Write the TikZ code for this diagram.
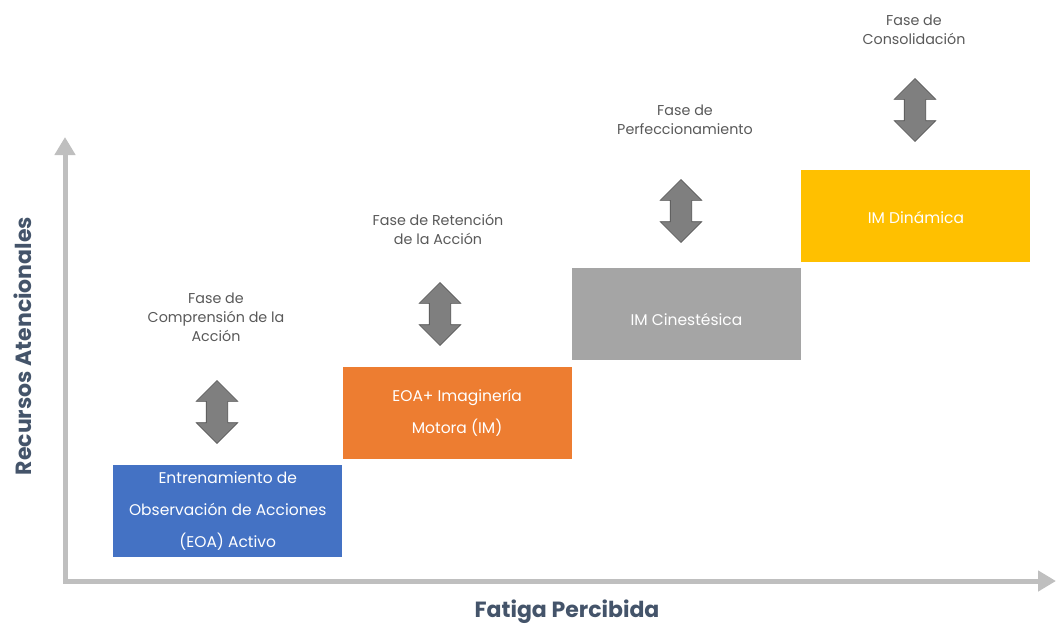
\documentclass[tikz,border=0pt]{standalone}
\usepackage{fontspec}
\setmainfont{Poppins}
\usetikzlibrary{arrows.meta,positioning,shapes.arrows}

\definecolor{ejegris}{HTML}{BFBFBF}
\definecolor{titulo}{HTML}{44546A}
\definecolor{fasegris}{HTML}{595959}
\definecolor{flechagris}{HTML}{7F7F7F}
\definecolor{flechaborde}{HTML}{505050}
\definecolor{eoaazul}{HTML}{4472C4}
\definecolor{imnaranja}{HTML}{ED7D31}
\definecolor{cingris}{HTML}{A5A5A5}
\definecolor{dinamarillo}{HTML}{FFC000}

\begin{document}
\begin{tikzpicture}[x=1pt,y=-1pt,
  etapa/.style={rectangle,minimum width=229pt,minimum height=92pt,inner sep=0pt,
    text=white,align=center,font=\fontsize{15.5}{32}\selectfont},
  fase/.style={align=center,text=fasegris,font=\fontsize{14.3}{19}\selectfont},
  flecha/.style={double arrow,rotate=90,fill=flechagris,draw=flechaborde,
    line width=0.6pt,inner xsep=0pt,inner ysep=10.5pt,minimum height=63pt,
    minimum width=41pt,double arrow head extend=10pt},
  eje/.style={line width=5pt,ejegris,line join=miter},
  titulo eje/.style={text=titulo,font=\fontsize{22}{24}\selectfont\bfseries}]
  \useasboundingbox (0,0) rectangle (1056,626);

  % ejes
  \coordinate (ytop) at (65,137);
  \coordinate (origen) at (65,581);
  \coordinate (xend) at (1056,581);
  \draw[eje,{Triangle[width=20pt,length=18pt]}-{Triangle[width=20pt,length=18pt]}]
    (ytop) -- (origen) -- (xend);
  \node[titulo eje,rotate=90] (ylab) at (23,346) {Recursos Atencionales};
  \node[titulo eje] (xlab) at (567,612) {Fatiga Percibida};

  % etapas
  \node[etapa,fill=eoaazul,anchor=north west] (eoa) at (113,465)
    {Entrenamiento de\\Observación de Acciones\\(EOA) Activo};
  \node[etapa,fill=imnaranja,anchor=south west] (eoaim) at ([yshift=6pt]eoa.north east)
    {EOA+ Imaginería\\Motora (IM)};
  \node[etapa,fill=cingris,anchor=south west,text height=22pt] (cin)
    at ([yshift=6pt]eoaim.north east) {IM Cinestésica};
  \node[etapa,fill=dinamarillo,anchor=south west,text height=15pt] (din)
    at ([yshift=6pt]cin.north east) {IM Dinámica};

  % flechas y fases
  \node[flecha] (f1) at (217,412) {};
  \node[flecha] (f2) at (440,314) {};
  \node[flecha] (f3) at (681,211) {};
  \node[flecha] (f4) at (915,110) {};

  \node[fase] (fase1) at (216,317) {Fase de\\Comprensión de la\\Acción};
  \node[fase] (fase2) at (438,229) {Fase de Retención\\de la Acción};
  \node[fase] (fase3) at (685,120) {Fase de\\Perfeccionamiento};
  \node[fase] (fase4) at (914,30) {Fase de\\Consolidación};
\end{tikzpicture}
\end{document}
